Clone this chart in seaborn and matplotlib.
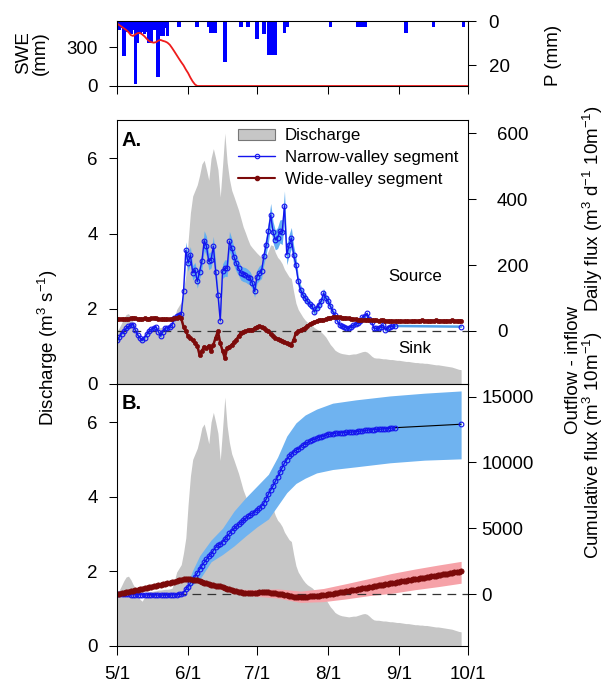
import numpy as np
import matplotlib
matplotlib.use("Agg")
import matplotlib.pyplot as plt
import seaborn as sns
from matplotlib.lines import Line2D
from matplotlib.patches import Patch

sns.set_style("ticks", {"axes.edgecolor": "black", "xtick.color": "black",
                        "ytick.color": "black", "text.color": "black",
                        "axes.labelcolor": "black"})
plt.rcParams["font.family"] = ["Liberation Sans", "DejaVu Sans"]
plt.rcParams["mathtext.fontset"] = "custom"
plt.rcParams["mathtext.rm"] = "Liberation Sans"
plt.rcParams["mathtext.it"] = "Liberation Sans:italic"
plt.rcParams["mathtext.bf"] = "Liberation Sans:bold"

# ---------------- data (x = days since May 1) ----------------
date_ticks = [0, 31, 61, 92, 123, 153]
date_labels = ["5/1", "6/1", "7/1", "8/1", "9/1", "10/1"]

# precipitation bars (mm)
p_days = [0, 1, 2, 3, 4, 5, 6, 7, 8, 9, 10, 11, 12, 13, 14, 15, 16, 17, 18, 19, 20,
          21, 22, 27, 35, 40, 41, 42, 43, 47, 54, 57, 61, 64, 66, 67, 68, 69, 73, 74,
          93, 105, 106, 107, 108, 126, 138, 151]
p_vals = [3, 4, 3, 16, 5, 5, 6, 4, 28.5, 10, 6, 5, 6, 5, 10, 10, 4, 4, 25.5, 7, 7,
          3, 7, 2.5, 2.5, 2.5, 5.5, 5.5, 5.5, 18.5, 2.5, 2.5, 8, 6, 15.5, 15.5, 15.5, 15.5, 5.5, 2.5,
          2.5, 2.5, 2.5, 2.5, 2.5, 5.5, 2.5, 2.5]

# snow water equivalent (mm)
swe_days = [0, 1, 2, 3, 4, 5, 6, 7, 8, 9, 10, 11, 12, 13, 14, 15, 16, 17, 18, 19, 20,
            21, 22, 23, 24, 25, 26, 27, 28, 29, 30, 31, 32, 33, 34, 35, 153]
swe_vals = [486, 472, 460, 447, 434, 418, 395, 388, 400, 410, 412, 400, 385, 365, 348, 340,
            336, 340, 352, 357, 350, 345, 336, 320, 295, 268, 240, 212, 185, 160, 128, 100,
            65, 35, 12, 0, 0]

# discharge (m3/s), daily from May 1
discharge = [1.41, 1.50, 1.62, 1.75, 1.85, 1.87, 1.78, 1.65, 1.55, 1.38,
             1.25, 1.20, 1.32, 1.43, 1.45, 1.46, 1.47, 1.48, 1.50, 1.50,
             1.51, 1.52, 1.52, 1.53, 1.55, 1.75, 1.98, 2.08, 2.18, 2.50,
             2.90, 3.80, 4.55, 5.00, 5.15, 5.30, 5.55, 5.85, 5.95, 5.70,
             5.42, 6.00, 6.26, 6.00, 5.70, 4.97, 5.80, 6.67, 5.90, 5.45,
             5.15, 4.98, 4.80, 4.62, 4.40, 4.18, 4.02, 3.85, 3.70, 3.62,
             3.55, 3.48, 3.42, 3.37, 3.36, 3.40, 3.55, 3.70, 3.68, 3.50,
             3.37, 3.30, 3.20, 3.05, 2.95, 2.85, 2.80, 2.45, 2.15, 1.98,
             1.88, 1.78, 1.70, 1.64, 1.60, 1.56, 1.50, 1.46, 1.42, 1.38,
             1.32, 1.25, 1.15, 1.05, 0.98, 0.90, 0.86, 0.83, 0.81, 0.80,
             0.79, 0.78, 0.79, 0.80, 0.80, 0.82, 0.84, 0.86, 0.87, 0.85,
             0.80, 0.74, 0.70, 0.69, 0.69, 0.68, 0.67, 0.67, 0.66, 0.65,
             0.65, 0.64, 0.63, 0.63, 0.62, 0.61, 0.60, 0.60, 0.59, 0.58,
             0.57, 0.57, 0.56, 0.56, 0.55, 0.55, 0.54, 0.53, 0.52, 0.51,
             0.51, 0.50, 0.49, 0.48, 0.47, 0.46, 0.45, 0.43, 0.41, 0.39,
             0.38]

# narrow-valley daily flux (m3 d-1 10m-1), daily May 1 .. Aug 30, plus Sep 28
narrow_daily = [-28, -18, -8, 0, 8, 14, 18, 19, 2, -12,
                -21, -28, -20, -10, 0, 6, 9, 11, -2, -16,
                -2, 9, 9, 12, 19, 39, 45, 49, 51, 120,
                245, 206, 231, 176, 186, 150, 180, 211, 274, 257,
                211, 216, 257, 180, 110, 31, 181, 191, 190, 272,
                251, 225, 205, 190, 176, 172, 170, 165, 160, 145,
                120, 165, 175, 181, 226, 260, 302, 352, 300, 276,
                282, 302, 300, 380, 231, 260, 282, 231, 201, 150,
                125, 110, 100, 90, 82, 75, 58, 70, 80, 90,
                115, 100, 90, 75, 60, 49, 30, 19, 14, 12,
                9, 8, 12, 18, 20, 23, 30, 43, 45, 53,
                35, 28, 8, 8, 8, 12, 18, 3, 10, 13,
                14, 15]
narrow_err = [5, 5, 5, 5, 5, 5, 5, 5, 5, 5,
              5, 5, 5, 5, 5, 5, 5, 5, 5, 5,
              5, 5, 5, 5, 5, 5, 5, 5, 8, 15,
              25, 25, 25, 22, 22, 20, 22, 25, 30, 30,
              25, 25, 30, 25, 18, 10, 22, 25, 25, 30,
              30, 28, 25, 22, 22, 22, 22, 22, 20, 20,
              18, 20, 22, 22, 25, 28, 32, 35, 32, 30,
              32, 35, 38, 45, 30, 32, 32, 28, 24, 18,
              16, 14, 13, 12, 12, 11, 10, 10, 11, 12,
              14, 12, 11, 10, 9, 8, 7, 6, 6, 6,
              6, 6, 6, 6, 6, 6, 6, 6, 6, 6,
              6, 6, 6, 6, 6, 6, 6, 6, 6, 6,
              6, 6]
narrow_end_day = 150
narrow_end_daily = 13

# wide-valley daily flux, daily May 1 .. Sep 28
wide_daily = [35, 36, 37, 36, 35, 36, 38, 40, 38, 36,
              37, 36, 38, 37, 36, 38, 40, 38, 36, 35,
              36, 35, 36, 35, 36, 38, 40, 42, 38, 13,
              0, -16, -21, -28, -37, -45, -73, -60, -48, -52,
              -45, -62, -42, -20, -1, -37, -60, -83, -52, -48,
              -42, -35, -27, -15, -6, -3, -1, 2, 3, 4,
              8, 12, 14, 12, 9, 2, -1, -10, -16, -20,
              -24, -26, -31, -33, -37, -40, -42, -27, -6, -1,
              2, 6, 10, 16, 20, 24, 27, 30, 32, 33,
              34, 35, 38, 40, 42, 42, 43, 42, 40, 40,
              39, 38, 37, 36, 35, 34, 34, 33, 33, 32,
              32, 33, 32, 32, 31, 32, 32, 31, 31, 30,
              30, 30, 29, 29, 30, 29, 29, 30, 29, 30,
              31, 30, 31, 32, 31, 31, 30, 31, 31, 32,
              31, 31, 31, 30, 31, 31, 32, 31, 31, 31,
              31]

# cumulative fluxes (m3 10m-1)
narrow_cum = [0, -10, -20, -25, -30, -35, -40, -45, -50, -55,
              -60, -65, -70, -72, -74, -75, -76, -77, -78, -79,
              -80, -80, -78, -75, -70, -60, -45, -25, 10, 100,
              350, 560, 820, 1080, 1320, 1600, 1880, 2150, 2400, 2630,
              2850, 3050, 3300, 3550, 3700, 3780, 3950, 4150, 4350, 4600,
              4800, 4980, 5150, 5300, 5450, 5600, 5750, 5900, 6030, 6150,
              6250, 6380, 6520, 6680, 6900, 7200, 7600, 7900, 8200, 8550,
              8900, 9250, 9600, 9950, 10200, 10450, 10650, 10800, 10920, 11030,
              11180, 11300, 11420, 11520, 11610, 11690, 11760, 11830, 11900, 11960,
              12020, 12070, 12120, 12160, 12190, 12215, 12235, 12250, 12260, 12270,
              12280, 12292, 12305, 12320, 12340, 12360, 12380, 12400, 12425, 12450,
              12470, 12485, 12495, 12505, 12515, 12530, 12550, 12560, 12575, 12595,
              12615, 12635]
narrow_cum_end = 12900
nb_days = [0, 28, 30, 33, 36, 41, 46, 51, 56, 61, 66, 70, 74, 78, 82, 87, 94, 104, 119, 134, 150]
nb_upper = [0, 50, 500, 1800, 2900, 4100, 5000, 6300, 7300, 8200, 9100, 10400, 12000, 13000,
            13600, 14050, 14500, 14750, 15050, 15260, 15430]
nb_lower = [0, 50, 250, 700, 1100, 2450, 3000, 3650, 4400, 5100, 5700, 6700, 7700, 8400,
            8800, 9200, 9460, 9660, 9970, 10170, 10270]

wide_cum = [0, 38, 76, 114, 152, 190, 228, 266, 304, 342,
            380, 418, 456, 494, 532, 570, 608, 646, 684, 722,
            760, 798, 836, 874, 912, 950, 990, 1030, 1070, 1110,
            1140, 1140, 1125, 1100, 1070, 1030, 980, 920, 870, 820,
            770, 710, 660, 620, 600, 580, 530, 460, 400, 350,
            300, 250, 200, 160, 130, 110, 100, 95, 95, 98,
            102, 110, 120, 128, 132, 130, 122, 108, 88, 64,
            38, 10, -22, -55, -90, -125, -160, -190, -205, -212,
            -212, -210, -205, -198, -188, -175, -160, -143, -125, -105,
            -85, -60, -35, -8, 20, 50, 82, 115, 148, 180,
            212, 244, 275, 306, 337, 368, 399, 430, 461, 492,
            523, 554, 585, 616, 647, 678, 709, 740, 771, 802,
            832, 862, 892, 922, 952, 982, 1012, 1042, 1072, 1102,
            1132, 1162, 1192, 1222, 1252, 1282, 1312, 1342, 1372, 1402,
            1432, 1462, 1492, 1522, 1552, 1582, 1612, 1642, 1672, 1702,
            1730]
wb_days = [0, 30, 40, 50, 60, 70, 80, 90, 100, 110, 120, 130, 140, 150]
wb_upper = [0, 1160, 750, 380, 340, 390, 220, 420, 790, 1180, 1570, 1900, 2200, 2480]
wb_lower = [0, 1140, 670, 80, -160, -310, -640, -580, -370, -120, 60, 330, 560, 820]

# ---------------- styling ----------------
C_GRAY = "#c6c6c6"
C_BLUE = "#1414ee"
C_BAND_A = "#62aef0"
C_BAND_B = "#6fb3f0"
C_RED = "#7c0a0a"
C_PINK = "#f6a2a8"
FS = 13.5

W, H = 607, 683
fig = plt.figure(figsize=(W / 100, H / 100), dpi=100)


def box(l, t, r, b):
    return [l / W, 1 - b / H, (r - l) / W, (b - t) / H]


ax_t = fig.add_axes(box(117, 21, 468, 86))
ax_a = fig.add_axes(box(117, 120, 468, 384))
ax_b = fig.add_axes(box(117, 384, 468, 646))
ax_t2 = ax_t.twinx()
ax_a2 = ax_a.twinx()
ax_b2 = ax_b.twinx()

q_days = np.arange(len(discharge))
n_days = np.arange(len(narrow_daily))
w_days = np.arange(len(wide_daily))
wc_days = np.arange(len(wide_cum))
nc_days = np.arange(len(narrow_cum))

# ---- top panel ----
ax_t2.bar(p_days, p_vals, width=1.6, color="#0000ff", linewidth=0)
sns.lineplot(x=swe_days, y=swe_vals, ax=ax_t, color="#ee1c1c", lw=1.3, errorbar=None)
ax_t.set_zorder(ax_t2.get_zorder() + 1)
ax_t.patch.set_visible(False)
ax_t.set_ylim(0, 504)
ax_t2.set_ylim(29.5, 0)
ax_t.set_yticks([0, 300])
ax_t2.set_yticks([0, 20])

# ---- panel A ----
ax_a.fill_between(q_days, 0, discharge, color=C_GRAY, lw=0)
ax_a2.axhline(0, color="#333333", lw=0.9, dashes=(7, 5))
ax_a2.fill_between(n_days, np.array(narrow_daily) - np.array(narrow_err),
                   np.array(narrow_daily) + np.array(narrow_err), color=C_BAND_A, lw=0)
ax_a2.plot([n_days[-1], narrow_end_day], [narrow_daily[-1], narrow_end_daily],
           color="#4f9fe8", lw=1.8)
sns.lineplot(x=n_days, y=narrow_daily, ax=ax_a2, color=C_BLUE, lw=1.0, errorbar=None,
             marker="o", ms=3.4, mfc="none", mec=C_BLUE, mew=0.8)
ax_a2.plot([narrow_end_day], [narrow_end_daily], marker="o", ms=3.4, mfc="none",
           mec=C_BLUE, mew=0.8, ls="none")
sns.lineplot(x=w_days, y=wide_daily, ax=ax_a2, color=C_RED, lw=1.8, errorbar=None,
             marker="o", ms=3.0, mfc=C_RED, mec=C_RED, mew=0.5)
ax_a.set_ylim(0, 7.02)
ax_a2.set_ylim(-161, 640)
ax_a.set_yticks([0, 2, 4, 6])
ax_a2.set_yticks([0, 200, 400, 600])

handles = [Patch(facecolor=C_GRAY, edgecolor="#777777", linewidth=0.8),
           Line2D([0], [0], color=C_BLUE, lw=1.0, marker="o", ms=3.2, mfc="none", mec=C_BLUE, mew=0.8),
           Line2D([0], [0], color=C_RED, lw=1.5, marker="o", ms=3.0, mfc=C_RED, mec=C_RED)]
ax_a2.legend(handles, ["Discharge", "Narrow-valley segment", "Wide-valley segment"],
             loc="upper left", bbox_to_anchor=(0.345, 0.968), frameon=False,
             borderpad=0, borderaxespad=0, handlelength=2.2, handletextpad=0.55,
             labelspacing=0.4, fontsize=12.2)
ax_a2.text(0.849, 0.409, "Source", transform=ax_a2.transAxes, ha="center", va="center", fontsize=12.2)
ax_a2.text(0.849, 0.136, "Sink", transform=ax_a2.transAxes, ha="center", va="center", fontsize=12.2)
ax_a2.text(0.014, 0.924, "A.", transform=ax_a2.transAxes, ha="left", va="center",
           fontsize=14.5, fontweight="bold")

# ---- panel B ----
ax_b.fill_between(q_days, 0, discharge, color=C_GRAY, lw=0)
ax_b2.axhline(0, color="#333333", lw=0.9, dashes=(7, 5))
ax_b2.fill_between(nb_days, nb_lower, nb_upper, color=C_BAND_B, lw=0)
ax_b2.fill_between(wb_days, wb_lower, wb_upper, color=C_PINK, lw=0)
ax_b2.plot([nc_days[-1], narrow_end_day], [narrow_cum[-1], narrow_cum_end], color="black", lw=0.8)
sns.lineplot(x=nc_days, y=narrow_cum, ax=ax_b2, color=C_BLUE, lw=1.0, errorbar=None,
             marker="o", ms=3.4, mfc="none", mec=C_BLUE, mew=0.8)
ax_b2.plot([narrow_end_day], [narrow_cum_end], marker="o", ms=3.4, mfc="none",
           mec=C_BLUE, mew=0.8, ls="none")
sns.lineplot(x=wc_days, y=wide_cum, ax=ax_b2, color=C_RED, lw=2.2, errorbar=None,
             marker="o", ms=3.8, mfc=C_RED, mec=C_RED, mew=0.5)
ax_b.set_ylim(0, 7.02)
ax_b2.set_ylim(-3951, 15957)
ax_b.set_yticks([0, 2, 4, 6])
ax_b2.set_yticks([0, 5000, 10000, 15000])
ax_b2.text(0.014, 0.927, "B.", transform=ax_b2.transAxes, ha="left", va="center",
           fontsize=14.5, fontweight="bold")

# ---- axes formatting ----
for ax in (ax_t, ax_a, ax_b, ax_t2, ax_a2, ax_b2):
    ax.set_xlim(0, 153)
    ax.set_xlabel("")
    ax.set_ylabel("")
    for s in ax.spines.values():
        s.set_visible(True)
        s.set_linewidth(0.75)
        s.set_color("black")
    ax.tick_params(axis="y", direction="out", length=5.8, width=0.75, labelsize=FS)

for ax in (ax_t, ax_a, ax_b):
    ax.set_xticks(date_ticks)
    ax.tick_params(axis="y", pad=8)
ax_t.set_xticklabels([])
ax_t.tick_params(axis="x", direction="out", length=6, width=0.75, labelbottom=False)
ax_a.tick_params(axis="x", bottom=False, labelbottom=False)
ax_b.set_xticklabels(date_labels)
ax_b.tick_params(axis="x", direction="out", length=6.5, width=0.75, pad=8, labelsize=FS)
ax_t2.tick_params(axis="y", pad=9)
ax_a2.tick_params(axis="y", pad=15)
ax_b2.tick_params(axis="y", pad=4)

# ---- axis titles ----
fig.text(48 / W, 1 - 348 / H, "Discharge (m$^{3}$ s$^{-1}$)", rotation=90,
         ha="center", va="center", fontsize=FS)
fig.text(32 / W, 1 - 53 / H, "SWE\n(mm)", rotation=90, ha="center", va="center",
         fontsize=FS, multialignment="center", linespacing=1.05)
fig.text(553 / W, 1 - 55 / H, "P (mm)", rotation=90, ha="center", va="center", fontsize=FS)
fig.text(573 / W, 1 - 370 / H, "Outflow - inflow", rotation=90, ha="center", va="center", fontsize=FS)
fig.text(593 / W, 1 - 209 / H, "Daily flux (m$^{3}$ d$^{-1}$ 10m$^{-1}$)", rotation=90,
         ha="center", va="center", fontsize=FS)
fig.text(593 / W, 1 - 445 / H, "Cumulative flux (m$^{3}$ 10m$^{-1}$)", rotation=90,
         ha="center", va="center", fontsize=FS)

fig.savefig("out.png", dpi=100, facecolor="white")
